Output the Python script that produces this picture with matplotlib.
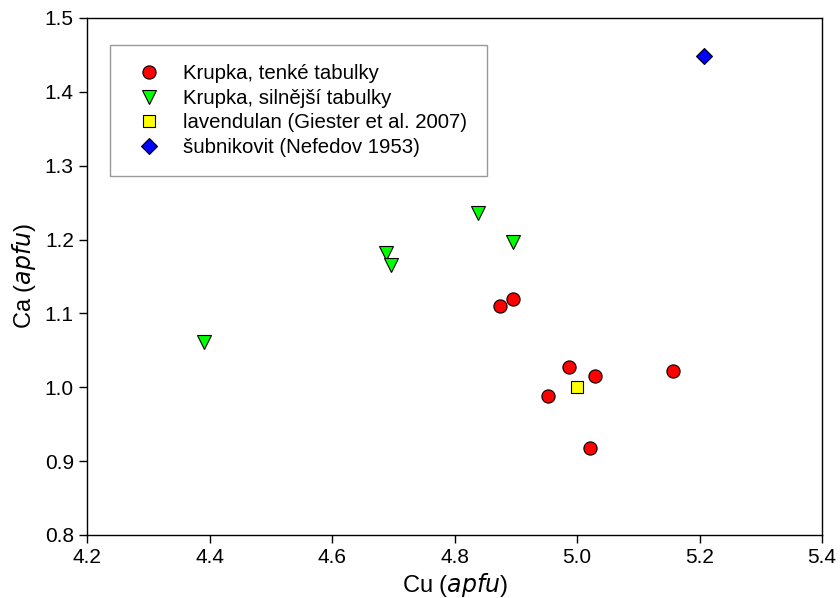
import numpy as np
import matplotlib.pyplot as plt

plt.rcParams['font.family'] = ['Liberation Sans', 'DejaVu Sans']

# Krupka, thin plates
cu_thin = [4.874, 4.895, 4.987, 5.029, 5.156, 4.952, 5.022]
ca_thin = [1.110, 1.119, 1.028, 1.015, 1.022, 0.988, 0.918]
# Krupka, thicker plates
cu_thick = [4.391, 4.688, 4.696, 4.839, 4.896]
ca_thick = [1.061, 1.182, 1.166, 1.236, 1.196]
# references
cu_lav = [5.0]
ca_lav = [1.0]
cu_sub = [5.207]
ca_sub = [1.449]

labels = ['Krupka, tenké tabulky', 'Krupka, silnější tabulky',
          'lavendulan (Giester et al. 2007)', 'šubnikovit (Nefedov 1953)']

fig = plt.figure(figsize=(8.4, 5.98), dpi=100)
ax = fig.add_axes([0.1036, 0.1054, 0.875, 0.8646])

kw = dict(linestyle='none', markeredgecolor='black', markeredgewidth=0.8)
ax.plot(cu_thin, ca_thin, 'o', color='#ff0000', markersize=9.5, label=labels[0], **kw)
ax.plot(cu_thick, ca_thick, 'v', color='#00ff00', markersize=10, label=labels[1], **kw)
ax.plot(cu_lav, ca_lav, 's', color='#ffff00', markersize=8, label=labels[2], **kw)
ax.plot(cu_sub, ca_sub, 'D', color='#0000ff', markersize=8.5, label=labels[3], **kw)

ax.set_xlim(4.2, 5.4)
ax.set_ylim(0.8, 1.5)
ax.set_xticks(np.arange(4.2, 5.41, 0.2))
ax.set_yticks(np.arange(0.8, 1.51, 0.1))
ax.xaxis.set_major_formatter(plt.FormatStrFormatter('%.1f'))
ax.yaxis.set_major_formatter(plt.FormatStrFormatter('%.1f'))
ax.tick_params(direction='out', length=6, width=1, labelsize=15)

for s in ax.spines.values():
    s.set_linewidth(1)

ax.set_xlabel('Cu ($\\it{apfu}$)', fontsize=17, labelpad=3)
ax.set_ylabel('Ca ($\\it{apfu}$)', fontsize=17, labelpad=5)

leg = ax.legend(loc='upper left', bbox_to_anchor=(0.031, 0.948), borderaxespad=0,
                fontsize=14.7, frameon=True, fancybox=False, edgecolor='#808080',
                borderpad=0.95, handletextpad=0.75, labelspacing=0.27, handlelength=1.9,
                numpoints=1)
leg.get_frame().set_linewidth(1)

fig.savefig('out.png', dpi=100)
